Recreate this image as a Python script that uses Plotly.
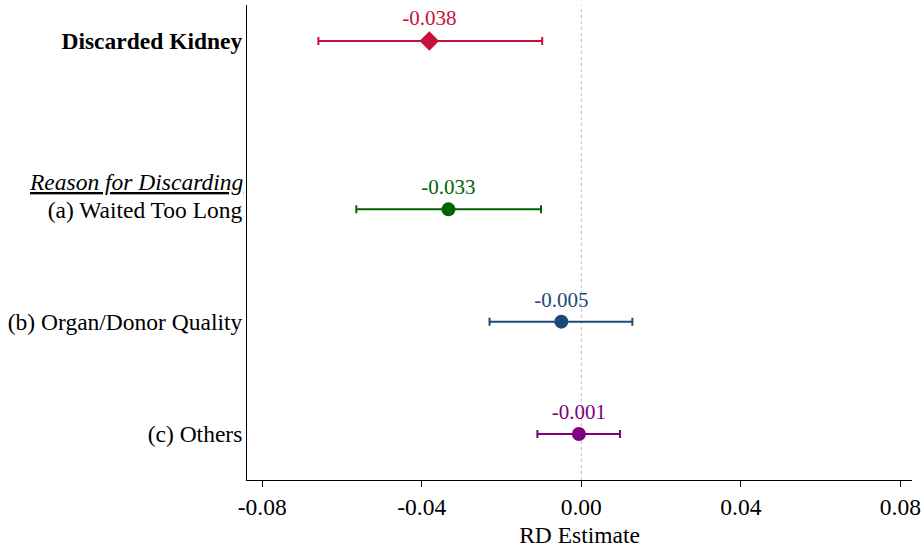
import plotly.graph_objects as go

labels = ["<b>Discarded Kidney</b>", "(a) Waited Too Long", "(b) Organ/Donor Quality", "(c) Others"]
ypos = [3.5, 2, 1, 0]
estimates = [-0.038, -0.033, -0.005, -0.001]
point_x = [-0.0381, -0.0333, -0.0050, -0.0006]
ci_low = [-0.0659, -0.0564, -0.0230, -0.0110]
ci_high = [-0.0098, -0.0101, 0.0128, 0.0097]
colors = ["#C8103C", "#006400", "#1B4A78", "#800080"]
symbols = ["diamond", "circle", "circle", "circle"]
sizes = [15, 14, 14, 14]
xticks = [-0.08, -0.04, 0.0, 0.04, 0.08]
xticktext = ["-0.08", "-0.04", "0.00", "0.04", "0.08"]
header = "<i><u>Reason for Discarding</u></i>"
header_y = 2.24

FONT = "Liberation Serif"
FS = 23.5

fig = go.Figure()

for i in range(len(labels)):
    fig.add_trace(go.Scatter(
        x=[point_x[i]], y=[ypos[i]],
        mode="markers+text",
        marker=dict(symbol=symbols[i], size=sizes[i], color=colors[i], line=dict(width=0)),
        error_x=dict(type="data", symmetric=False,
                     array=[ci_high[i] - point_x[i]],
                     arrayminus=[point_x[i] - ci_low[i]],
                     color=colors[i], thickness=2, width=4),
        text=[f"{estimates[i]:.3f}"],
        textposition="top center",
        textfont=dict(family=FONT, size=21, color=colors[i]),
        showlegend=False,
        hoverinfo="skip",
    ))

fig.add_shape(type="line", xref="x", yref="paper", x0=0, x1=0, y0=0, y1=1,
              line=dict(color="#BBBBBB", width=1, dash="dot"), layer="below")

fig.add_annotation(xref="paper", yref="y", x=0, y=header_y, xanchor="right", yanchor="middle",
                   xshift=-2, text=header, showarrow=False,
                   font=dict(family=FONT, size=FS, color="black"))

fig.update_layout(
    width=924, height=550,
    margin=dict(l=247, r=3, t=5, b=70),
    plot_bgcolor="white", paper_bgcolor="white",
    font=dict(family=FONT, size=FS, color="black"),
    xaxis=dict(range=[-0.0838, 0.0829], tickvals=xticks, ticktext=xticktext,
               showgrid=False, zeroline=False, showline=True, linecolor="black", linewidth=1,
               ticks="outside", ticklen=6, tickcolor="black", ticklabeloverflow="allow",
               tickfont=dict(family=FONT, size=FS),
               title=dict(text="RD Estimate", font=dict(family=FONT, size=FS), standoff=7)),
    yaxis=dict(range=[-0.41, 3.82], tickvals=ypos, ticktext=labels,
               showgrid=False, zeroline=False, showline=True, linecolor="black", linewidth=1,
               ticks="", tickfont=dict(family=FONT, size=FS), ticklabelstandoff=-1),
)

fig.write_html("out.html")
